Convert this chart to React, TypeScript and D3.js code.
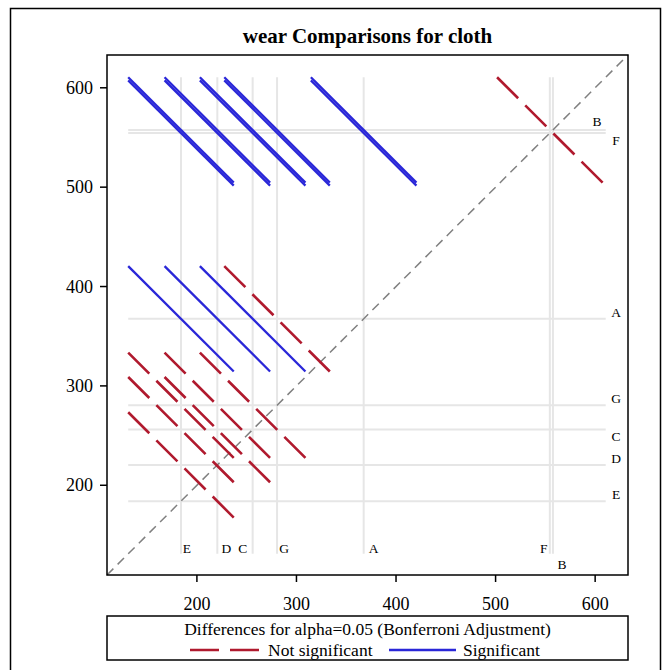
import React from "react";
import * as d3 from "d3";

// ---- data ----
const levels = ["A", "B", "C", "D", "E", "F", "G"];
const means = [367.5, 557.6, 256.0, 220.5, 184.0, 554.5, 280.5];
const halfWidth = 53; // projected half-length of each difference CI segment
const xTicks = [200, 300, 400, 500, 600];
const yTicks = [200, 300, 400, 500, 600];
const titleText = "wear Comparisons for cloth";
const legendTitle = "Differences for alpha=0.05 (Bonferroni Adjustment)";
const legendLabels = ["Not significant", "Significant"];

// ---- label placement (layout, not data) ----
const bottomLabelDx: Record<string, number> = { A: 10, B: 9, C: -10, D: 9, E: 6, F: -6, G: 7 };
const bottomLabelRow: Record<string, number> = { A: 0, B: 1, C: 0, D: 0, E: 0, F: 0, G: 0 };
const rightLabelDy: Record<string, number> = { A: -6, B: -8, C: 7, D: -6, E: -7, F: 7, G: -7 };
const rightLabelX: Record<string, number> = { A: 616, B: 597, C: 616, D: 616, E: 616, F: 616, G: 616 };

const W = 669;
const H = 670;
const left = 107, right = 628, top = 55, bottom = 575;
const RED = "#B01A2E";
const BLUE = "#2A27D8";
const FONT = "'Liberation Serif', 'Times New Roman', serif";

export default function App() {
  const domain: [number, number] = [109.7, 633];
  const x = d3.scaleLinear().domain(domain).range([left, right]);
  const y = d3.scaleLinear().domain(domain).range([bottom, top]);

  const minM = d3.min(means)!;
  const maxM = d3.max(means)!;

  type Seg = { xm: number; ym: number; sig: boolean; key: string };
  const segs: Seg[] = [];
  for (let i = 0; i < levels.length; i++) {
    for (let j = i + 1; j < levels.length; j++) {
      const a = means[i], b = means[j];
      const xm = Math.min(a, b), ym = Math.max(a, b);
      const sig = Math.abs(a - b) > 2 * halfWidth;
      segs.push({ xm, ym, sig, key: levels[i] + levels[j] });
    }
  }
  const line = d3.line<[number, number]>().x((d) => x(d[0])).y((d) => y(d[1]));

  const segLen = Math.hypot(x(2 * halfWidth) - x(0), y(0) - y(2 * halfWidth));
  const gap = 10;
  const dash = (segLen - 3 * gap) / 4;

  const cx = (left + right) / 2;

  return (
    <svg width={W} height={H} style={{ position: "absolute", left: 0, top: 0 }} fontFamily={FONT}>
      <rect x={0} y={0} width={W} height={H} fill="#fff" />
      <rect x={10.5} y={8.5} width={650} height={700} fill="none" stroke="#000" strokeWidth={1.5} />
      <text x={cx} y={43} textAnchor="middle" fontSize={21} fontWeight="bold">{titleText}</text>

      {/* reference lines */}
      {means.map((m, i) => (
        <g key={"ref" + i}>
          <line x1={x(m)} x2={x(m)} y1={y(maxM + halfWidth)} y2={y(minM - halfWidth)} stroke="#E6E6E6" strokeWidth={2} />
          <line x1={x(minM - halfWidth)} x2={x(maxM + halfWidth)} y1={y(m)} y2={y(m)} stroke="#E6E6E6" strokeWidth={2} />
        </g>
      ))}

      {/* diagonal */}
      <line x1={x(domain[0])} y1={y(domain[0])} x2={x(domain[1])} y2={y(domain[1])} stroke="#808080" strokeWidth={1.5} strokeDasharray="9 6" />

      {/* difference segments */}
      {segs.map((s) => (
        <path
          key={s.key}
          d={line([[s.xm - halfWidth, s.ym + halfWidth], [s.xm + halfWidth, s.ym - halfWidth]])!}
          stroke={s.sig ? BLUE : RED}
          strokeWidth={s.sig ? 2.3 : 2.6}
          strokeDasharray={s.sig ? undefined : `${dash} ${gap}`}
          fill="none"
        />
      ))}

      {/* level labels */}
      {levels.map((lv, i) => (
        <g key={"lab" + lv} fontSize={13.5}>
          <text x={x(means[i]) + bottomLabelDx[lv]} y={553 + bottomLabelRow[lv] * 16} textAnchor="middle">{lv}</text>
          <text x={rightLabelX[lv]} y={y(means[i]) + rightLabelDy[lv] + 4.5} textAnchor="middle">{lv}</text>
        </g>
      ))}

      {/* frame */}
      <rect x={left} y={top} width={right - left} height={bottom - top} fill="none" stroke="#000" strokeWidth={1.5} />

      {/* axes */}
      {xTicks.map((t) => (
        <g key={"xt" + t}>
          <line x1={x(t)} x2={x(t)} y1={bottom} y2={bottom + 7} stroke="#000" strokeWidth={1.5} />
          <text x={x(t)} y={bottom + 35} textAnchor="middle" fontSize={18}>{t}</text>
        </g>
      ))}
      {yTicks.map((t) => (
        <g key={"yt" + t}>
          <line x1={left} x2={left - 7} y1={y(t)} y2={y(t)} stroke="#000" strokeWidth={1.5} />
          <text x={left - 14} y={y(t) + 6} textAnchor="end" fontSize={18}>{t}</text>
        </g>
      ))}

      {/* legend */}
      <rect x={left} y={616} width={right - left} height={44} fill="none" stroke="#000" strokeWidth={1.5} />
      <text x={cx} y={635} textAnchor="middle" fontSize={17.5}>{legendTitle}</text>
      <line x1={190} x2={259} y1={650} y2={650} stroke={RED} strokeWidth={2.5} strokeDasharray="29 11" />
      <text x={268} y={656} fontSize={17.5}>{legendLabels[0]}</text>
      <line x1={389} x2={456} y1={650} y2={650} stroke={BLUE} strokeWidth={2.5} />
      <text x={463} y={656} fontSize={17.5}>{legendLabels[1]}</text>
    </svg>
  );
}
